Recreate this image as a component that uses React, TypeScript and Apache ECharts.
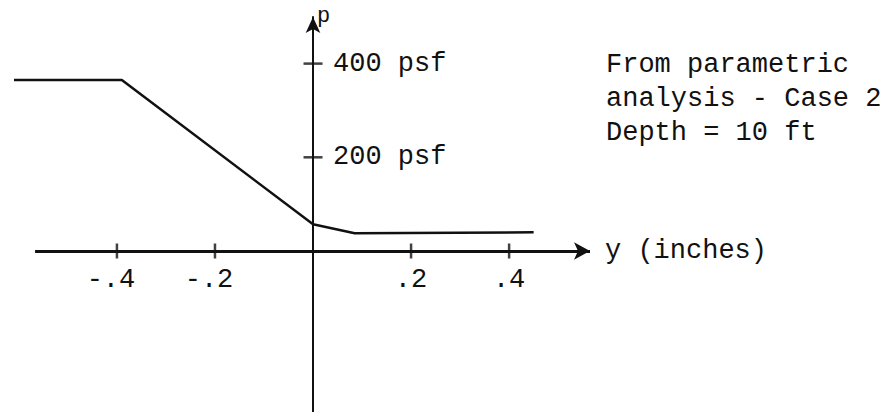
import React, { useEffect, useRef } from "react";
import * as echarts from "echarts";

// Lateral displacement y (inches) and soil pressure p (psf) along the curve
const displacement = [-0.61, -0.39, 0, 0.085, 0.45];
const pressure = [365, 365, 57, 38, 40];

// Axis tick positions and their printed labels
const xTicks = [-0.4, -0.2, 0.2, 0.4];
const xTickLabels = ["-.4", "-.2", ".2", ".4"];
const pTicks = [200, 400];
const pTickLabels = ["200 psf", "400 psf"];

// Extent of the drawn displacement axis (arrow at the right end)
const xAxisStart = -0.567;
const xAxisEnd = 0.565;

// Annotation block at the upper right
const noteLines = ["From parametric", "analysis - Case 2", "Depth = 10 ft"];

const INK = "#111";
const FONT = "'Liberation Mono', 'DejaVu Sans Mono', monospace";

function lookup(values: number[], labels: string[], v: number): string {
  const i = values.findIndex((t) => Math.abs(t - v) < 1e-6);
  return i >= 0 ? labels[i] : "";
}

export default function App() {
  const ref = useRef<HTMLDivElement>(null);

  useEffect(() => {
    document.body.style.margin = "0";
    const chart = echarts.init(ref.current!, null, { renderer: "svg" });

    const textStyle = { fontFamily: FONT, fontSize: 27, color: INK };
    const X_MIN = -0.612;
    const X_MAX = 0.565;
    const P_MAX = 499.5;

    chart.setOption({
      animation: false,
      backgroundColor: "#fff",
      grid: [
        // upper half-plane: data curve and the displacement axis along its bottom edge
        { left: 13, right: 301, top: 17, bottom: 161, containLabel: false, outerBoundsMode: "none" },
        // right of the pressure axis, full height: carries the vertical axis
        { left: 313, right: 301, top: 17, bottom: 0, containLabel: false, outerBoundsMode: "none" },
      ],
      xAxis: [
        {
          gridIndex: 0,
          type: "value",
          min: X_MIN,
          max: X_MAX,
          splitLine: { show: false },
          axisTick: { show: false },
          axisLine: { show: false, onZero: false },
          axisLabel: {
            customValues: xTicks,
            // negative labels sit with their digits under the tick, the minus hanging left
            formatter: (v: number) => {
              const s = lookup(xTicks, xTickLabels, v);
              return v < 0 ? `{neg|${s}}` : s;
            },
            rich: {
              neg: { ...textStyle, padding: [0, 12, 0, 0] },
            },
            margin: 15,
            ...textStyle,
          },
          name: "y (inches)",
          nameLocation: "end",
          nameGap: 15,
          nameTextStyle: { ...textStyle, verticalAlign: "middle" },
        },
        {
          gridIndex: 1,
          type: "value",
          min: 0,
          max: X_MAX,
          show: false,
        },
      ],
      yAxis: [
        {
          gridIndex: 0,
          type: "value",
          min: 0,
          max: P_MAX,
          show: false,
        },
        {
          gridIndex: 1,
          type: "value",
          min: -343.6,
          max: P_MAX,
          position: "left",
          splitLine: { show: false },
          axisTick: { show: false },
          axisLine: {
            onZero: false,
            symbol: ["none", "arrow"],
            symbolSize: [11, 16],
            lineStyle: { color: INK, width: 2 },
          },
          axisLabel: {
            inside: true,
            customValues: pTicks,
            formatter: (v: number) => lookup(pTicks, pTickLabels, v),
            margin: 20,
            ...textStyle,
          },
        },
      ],
      graphic: [
        {
          type: "text",
          left: 317,
          top: 5,
          style: { text: "p", fontFamily: FONT, fontSize: 22, fill: INK },
        },
        {
          type: "text",
          left: 606,
          top: 48,
          style: {
            text: noteLines.join("\n"),
            fontFamily: FONT,
            fontSize: 27,
            lineHeight: 34,
            fill: INK,
          },
        },
      ],
      series: [
        {
          type: "line",
          xAxisIndex: 0,
          yAxisIndex: 0,
          data: displacement.map((d, i) => [d, pressure[i]]),
          showSymbol: false,
          clip: false,
          silent: true,
          lineStyle: { color: INK, width: 2.5 },
          markLine: {
            silent: true,
            symbol: ["none", "arrow"],
            symbolSize: [13, 16],
            label: { show: false },
            lineStyle: { color: INK, width: 3, type: "solid" },
            data: [[{ coord: [xAxisStart, 0] }, { coord: [xAxisEnd, 0] }]],
          },
        },
        {
          // cross ticks on the displacement axis
          type: "scatter",
          xAxisIndex: 0,
          yAxisIndex: 0,
          data: xTicks.map((t) => [t, 0]),
          symbol: "rect",
          symbolSize: [2.5, 15],
          itemStyle: { color: INK },
          clip: false,
          silent: true,
        },
        {
          // cross ticks on the pressure axis
          type: "scatter",
          xAxisIndex: 0,
          yAxisIndex: 0,
          data: pTicks.map((t) => [0, t]),
          symbol: "rect",
          symbolSize: [19, 2.5],
          itemStyle: { color: INK },
          clip: false,
          silent: true,
        },
      ],
    });

    return () => chart.dispose();
  }, []);

  return (
    <div
      ref={ref}
      style={{ position: "absolute", left: 0, top: 0, width: 891, height: 412 }}
    />
  );
}
